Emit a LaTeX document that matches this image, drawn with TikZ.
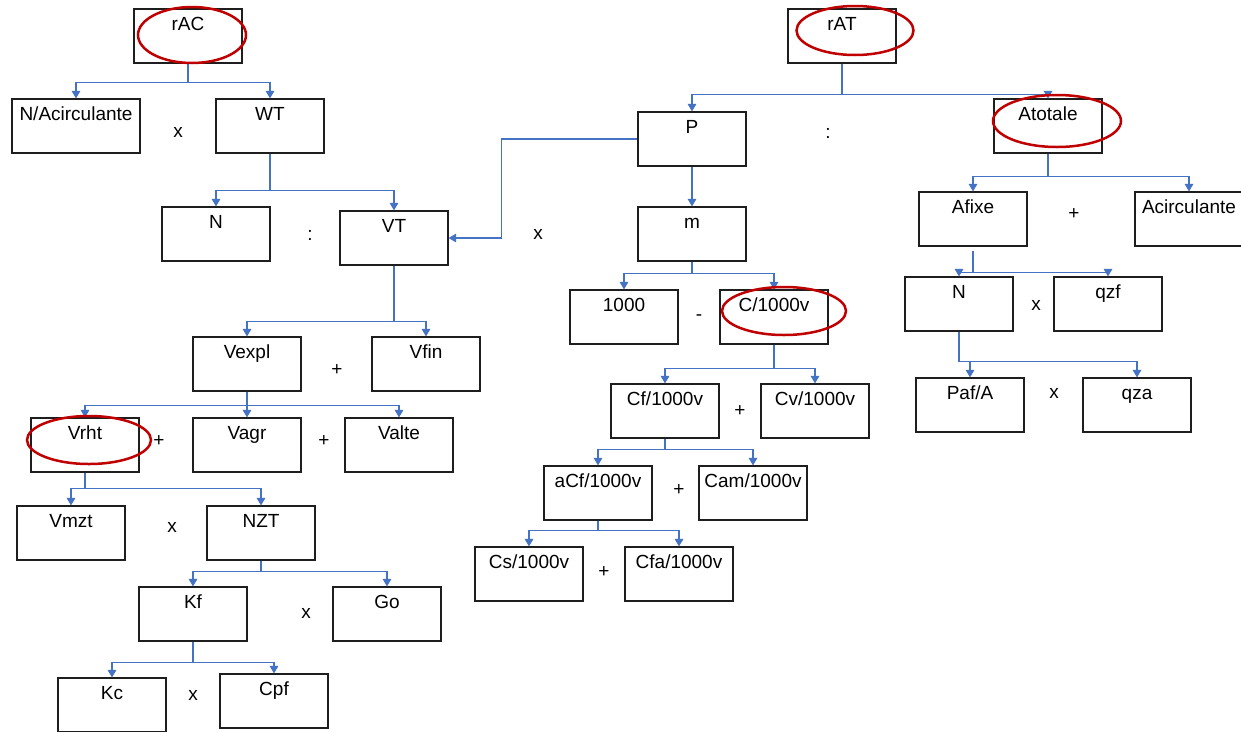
\documentclass[tikz,border=0pt]{standalone}
\usepackage{fontspec}
\setmainfont{Liberation Sans}
\usetikzlibrary{arrows.meta}
\definecolor{connblue}{RGB}{68,114,196}
\definecolor{ringred}{RGB}{192,0,0}
\definecolor{boxline}{RGB}{30,30,30}
\tikzset{
  box/.style={draw=boxline, line width=1.1pt, minimum width=108pt, minimum height=54pt,
    inner xsep=2pt, inner ysep=2pt, text height=19pt, text depth=31pt, font=\fontsize{19}{22}\selectfont},
  conn/.style={draw=connblue, line width=1.2pt},
  arr/.style={conn, -{Triangle[width=8.5pt,length=7.5pt]}},
  ring/.style={draw=ringred, line width=2.5pt},
  op/.style={font=\fontsize{19}{22}\selectfont, inner sep=0pt}
}
\begin{document}
\begin{tikzpicture}[x=1pt,y=-1pt]
\useasboundingbox (0,0) rectangle (1241,731);
\fill[white] (0,0) rectangle (1241,731);
% left tree
\node[box] (rAC) at (188,36) {rAC};
\node[box, minimum width=128pt] (NAc) at (76,126) {N/Acirculante};
\node[box] (WT) at (270,126) {WT};
\node[box] (N1) at (216,234) {N};
\node[box] (VT) at (394,238) {VT};
\node[box] (Vexpl) at (247,364) {Vexpl};
\node[box] (Vfin) at (426,364) {Vfin};
\node[box] (Vrht) at (85,445) {Vrht};
\node[box] (Vagr) at (247,445) {Vagr};
\node[box] (Valte) at (399,445) {Valte};
\node[box] (Vmzt) at (71,533) {Vmzt};
\node[box] (NZT) at (261,533) {NZT};
\node[box] (Kf) at (193,614) {Kf};
\node[box] (Go) at (387,614) {Go};
\node[box] (Kc) at (112,705) {Kc};
\node[box] (Cpf) at (274,701) {Cpf};
% middle tree
\node[box] (rAT) at (842,36) {rAT};
\node[box] (P) at (692,139) {P};
\node[box] (m) at (692,234) {m};
\node[box] (n1000) at (624,317) {1000};
\node[box] (C1000) at (774,317) {C/1000v};
\node[box] (Cf) at (665,411) {Cf/1000v};
\node[box] (Cv) at (815,411) {Cv/1000v};
\node[box] (aCf) at (598,493) {aCf/1000v};
\node[box] (Cam) at (753,493) {Cam/1000v};
\node[box] (Cs) at (529,574) {Cs/1000v};
\node[box] (Cfa) at (679,574) {Cfa/1000v};
% right tree
\node[box] (Atot) at (1048,126) {Atotale};
\node[box] (Afixe) at (973,219) {Afixe};
\node[box] (Acirc) at (1189,219) {Acirculante};
\node[box] (N2) at (959,304) {N};
\node[box] (qzf) at (1108,304) {qzf};
\node[box] (Paf) at (970,405) {Paf/A};
\node[box] (qza) at (1137,405) {qza};
% operators
\node[op] (o1) at (178,132) {x};
\node[op] (o2) at (310,235) {:};
\node[op] (o3) at (337,370) {+};
\node[op] (o4) at (159,441) {+};
\node[op] (o5) at (324,441) {+};
\node[op] (o6) at (172,527) {x};
\node[op] (o7) at (306,613) {x};
\node[op] (o8) at (193,695) {x};
\node[op] (o9) at (538,234) {x};
\node[op] (o10) at (828,133) {:};
\node[op] (o11) at (699,318) {-};
\node[op] (o12) at (740,411) {+};
\node[op] (o13) at (679,490) {+};
\node[op] (o14) at (604,572) {+};
\node[op] (o15) at (1074,214) {+};
\node[op] (o16) at (1036,305) {x};
\node[op] (o17) at (1054,393) {x};
% connectors left
\draw[arr] (rAC.south) -- ++(0,19) -| (NAc.north);
\draw[arr] (rAC.south) -- ++(0,19) -| (WT.north);
\draw[arr] (WT.south) -- ++(0,37) -| (N1.north);
\draw[arr] (WT.south) -- ++(0,37) -| (VT.north);
\draw[arr] (VT.south) -- ++(0,56) -| (Vexpl.north);
\draw[arr] (VT.south) -- ++(0,56) -| (Vfin.north);
\draw[arr] (Vexpl.south) -- ++(0,14) -| (Vrht.north);
\draw[arr] (Vexpl.south) -- (Vagr.north);
\draw[arr] (Vexpl.south) -- ++(0,14) -| (Valte.north);
\draw[arr] (Vrht.south) -- ++(0,16) -| (Vmzt.north);
\draw[arr] (Vrht.south) -- ++(0,16) -| (NZT.north);
\draw[arr] (NZT.south) -- ++(0,11) -| (Kf.north);
\draw[arr] (NZT.south) -- ++(0,11) -| (Go.north);
\draw[arr] (Kf.south) -- ++(0,21) -| (Kc.north);
\draw[arr] (Kf.south) -- ++(0,21) -| (Cpf.north);
% connectors middle
\draw[arr] (rAT.south) -- ++(0,31) -| (P.north);
\draw[arr] (rAT.south) -- ++(0,31) -| (Atot.north);
\draw[arr] (P.west) -- ++(-136,0) |- (VT.east);
\draw[arr] (P.south) -- (m.north);
\draw[arr] (m.south) -- ++(0,12) -| (n1000.north);
\draw[arr] (m.south) -- ++(0,12) -| (C1000.north);
\draw[arr] (C1000.south) -- ++(0,24) -| (Cf.north);
\draw[arr] (C1000.south) -- ++(0,24) -| (Cv.north);
\draw[arr] (Cf.south) -- ++(0,11) -| (aCf.north);
\draw[arr] (Cf.south) -- ++(0,11) -| (Cam.north);
\draw[arr] (aCf.south) -- ++(0,10) -| (Cs.north);
\draw[arr] (aCf.south) -- ++(0,10) -| (Cfa.north);
% connectors right
\draw[arr] (Atot.south) -- ++(0,23) -| (Afixe.north);
\draw[arr] (Atot.south) -- ++(0,23) -| (Acirc.north);
\draw[arr] ([yshift=-4pt]Afixe.south) -- ++(0,22) -| (N2.north);
\draw[arr] ([yshift=-4pt]Afixe.south) -- ++(0,22) -| (qzf.north);
\draw[arr] (N2.south) -- ++(0,30) -| (Paf.north);
\draw[arr] (N2.south) -- ++(0,30) -| (qza.north);
% red rings
\draw[ring] (192,35) ellipse [x radius=54, y radius=28];
\draw[ring] (855,30.5) ellipse [x radius=58.5, y radius=24.5];
\draw[ring] (1057,121) ellipse [x radius=64, y radius=26];
\draw[ring] (784,311) ellipse [x radius=62, y radius=24];
\draw[ring] (89,440) ellipse [x radius=62, y radius=24];
\end{tikzpicture}
\end{document}
